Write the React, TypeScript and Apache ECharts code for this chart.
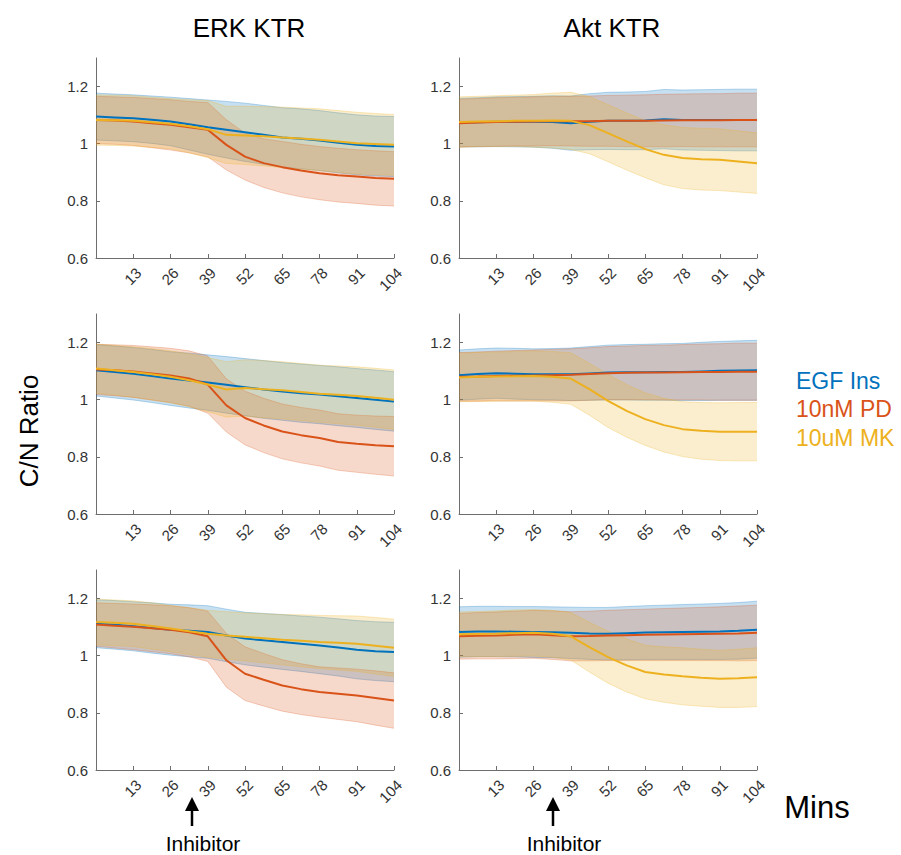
import React, { useEffect, useRef } from 'react';
import * as echarts from 'echarts';

// ---------- data ----------
const minutes = [0, 6.5, 13, 19.5, 26, 32.5, 39, 45.5, 52, 58.5, 65, 71.5, 78, 84.5, 91, 97.5, 104];
const xTickValues = [13, 26, 39, 52, 65, 78, 91, 104];
const yTickValues = [0.6, 0.8, 1, 1.2];
const conditionNames = ['EGF Ins', '10nM PD', '10uM MK'];
const columnTitles = ['ERK KTR', 'Akt KTR'];
const xAxisTitle = 'Mins';
const yAxisTitle = 'C/N Ratio';
const inhibitorLabel = 'Inhibitor';

// ERK KTR, row 1
const erk1EgfMean = [1.095, 1.092, 1.089, 1.084, 1.078, 1.068, 1.058, 1.049, 1.040, 1.031, 1.022, 1.017, 1.011, 1.003, 0.996, 0.992, 0.990];
const erk1EgfSd = [0.082, 0.082, 0.082, 0.083, 0.085, 0.090, 0.095, 0.099, 0.102, 0.103, 0.104, 0.105, 0.105, 0.105, 0.105, 0.105, 0.105];
const erk1PdMean = [1.083, 1.081, 1.078, 1.072, 1.066, 1.058, 1.049, 0.996, 0.955, 0.932, 0.918, 0.906, 0.897, 0.890, 0.885, 0.880, 0.877];
const erk1PdSd = [0.083, 0.083, 0.084, 0.086, 0.088, 0.090, 0.095, 0.088, 0.082, 0.085, 0.090, 0.092, 0.093, 0.094, 0.094, 0.095, 0.095];
const erk1MkMean = [1.083, 1.082, 1.080, 1.075, 1.070, 1.061, 1.051, 1.031, 1.029, 1.026, 1.022, 1.018, 1.014, 1.008, 1.002, 0.999, 0.996];
const erk1MkSd = [0.088, 0.088, 0.088, 0.088, 0.088, 0.093, 0.100, 0.100, 0.102, 0.104, 0.106, 0.107, 0.108, 0.108, 0.108, 0.107, 0.106];

// Akt KTR, row 1
const akt1EgfMean = [1.074, 1.075, 1.077, 1.077, 1.077, 1.076, 1.072, 1.077, 1.080, 1.080, 1.081, 1.086, 1.083, 1.083, 1.083, 1.083, 1.083];
const akt1EgfSd = [0.085, 0.086, 0.087, 0.088, 0.089, 0.092, 0.095, 0.098, 0.100, 0.101, 0.102, 0.104, 0.105, 0.106, 0.107, 0.108, 0.108];
const akt1PdMean = [1.072, 1.074, 1.076, 1.077, 1.078, 1.079, 1.079, 1.079, 1.080, 1.080, 1.080, 1.081, 1.082, 1.082, 1.082, 1.083, 1.083];
const akt1PdSd = [0.084, 0.084, 0.085, 0.085, 0.086, 0.086, 0.087, 0.088, 0.089, 0.090, 0.091, 0.092, 0.092, 0.093, 0.093, 0.094, 0.094];
const akt1MkMean = [1.076, 1.078, 1.079, 1.080, 1.080, 1.081, 1.080, 1.065, 1.037, 1.008, 0.981, 0.961, 0.950, 0.946, 0.944, 0.938, 0.932];
const akt1MkSd = [0.088, 0.088, 0.089, 0.090, 0.092, 0.096, 0.100, 0.100, 0.100, 0.100, 0.100, 0.105, 0.107, 0.108, 0.108, 0.107, 0.106];

// ERK KTR, row 2
const erk2EgfMean = [1.103, 1.097, 1.091, 1.083, 1.074, 1.067, 1.060, 1.052, 1.044, 1.036, 1.029, 1.023, 1.018, 1.012, 1.006, 1.000, 0.994];
const erk2EgfSd = [0.090, 0.091, 0.092, 0.093, 0.094, 0.096, 0.097, 0.099, 0.100, 0.101, 0.101, 0.102, 0.102, 0.103, 0.103, 0.104, 0.104];
const erk2PdMean = [1.106, 1.103, 1.099, 1.092, 1.085, 1.074, 1.053, 0.980, 0.936, 0.910, 0.889, 0.876, 0.866, 0.852, 0.846, 0.841, 0.837];
const erk2PdSd = [0.088, 0.089, 0.091, 0.093, 0.095, 0.097, 0.100, 0.093, 0.094, 0.095, 0.096, 0.097, 0.098, 0.099, 0.100, 0.102, 0.104];
const erk2MkMean = [1.109, 1.103, 1.097, 1.089, 1.080, 1.068, 1.053, 1.036, 1.041, 1.037, 1.033, 1.027, 1.021, 1.017, 1.013, 1.007, 1.000];
const erk2MkSd = [0.086, 0.087, 0.088, 0.090, 0.091, 0.093, 0.095, 0.097, 0.099, 0.100, 0.100, 0.100, 0.100, 0.101, 0.102, 0.103, 0.104];

// Akt KTR, row 2
const akt2EgfMean = [1.086, 1.090, 1.093, 1.091, 1.089, 1.089, 1.089, 1.092, 1.095, 1.096, 1.096, 1.097, 1.097, 1.099, 1.101, 1.102, 1.103];
const akt2EgfSd = [0.088, 0.088, 0.088, 0.089, 0.089, 0.090, 0.092, 0.094, 0.096, 0.097, 0.098, 0.099, 0.100, 0.102, 0.103, 0.104, 0.105];
const akt2PdMean = [1.080, 1.081, 1.083, 1.084, 1.085, 1.086, 1.087, 1.090, 1.093, 1.094, 1.095, 1.095, 1.096, 1.097, 1.097, 1.098, 1.098];
const akt2PdSd = [0.085, 0.086, 0.087, 0.088, 0.089, 0.090, 0.091, 0.092, 0.093, 0.094, 0.095, 0.096, 0.097, 0.098, 0.099, 0.100, 0.100];
const akt2MkMean = [1.078, 1.080, 1.081, 1.082, 1.083, 1.080, 1.074, 1.037, 0.996, 0.961, 0.932, 0.911, 0.897, 0.891, 0.888, 0.888, 0.888];
const akt2MkSd = [0.085, 0.086, 0.086, 0.087, 0.088, 0.089, 0.090, 0.091, 0.093, 0.092, 0.092, 0.094, 0.096, 0.099, 0.101, 0.102, 0.102];

// ERK KTR, row 3
const erk3EgfMean = [1.112, 1.108, 1.103, 1.097, 1.091, 1.087, 1.083, 1.071, 1.060, 1.054, 1.048, 1.042, 1.036, 1.029, 1.021, 1.016, 1.013];
const erk3EgfSd = [0.084, 0.085, 0.086, 0.088, 0.089, 0.091, 0.092, 0.092, 0.092, 0.094, 0.096, 0.097, 0.099, 0.100, 0.102, 0.103, 0.104];
const erk3PdMean = [1.109, 1.105, 1.101, 1.096, 1.091, 1.082, 1.068, 0.984, 0.937, 0.916, 0.896, 0.883, 0.873, 0.867, 0.861, 0.852, 0.843];
const erk3PdSd = [0.076, 0.078, 0.080, 0.082, 0.084, 0.086, 0.088, 0.094, 0.094, 0.092, 0.090, 0.089, 0.088, 0.090, 0.092, 0.095, 0.097];
const erk3MkMean = [1.118, 1.115, 1.112, 1.104, 1.095, 1.086, 1.077, 1.071, 1.066, 1.061, 1.056, 1.052, 1.048, 1.045, 1.042, 1.035, 1.028];
const erk3MkSd = [0.080, 0.080, 0.080, 0.081, 0.081, 0.082, 0.082, 0.083, 0.084, 0.086, 0.088, 0.091, 0.093, 0.095, 0.097, 0.099, 0.100];

// Akt KTR, row 3
const akt3EgfMean = [1.083, 1.085, 1.085, 1.084, 1.083, 1.082, 1.080, 1.078, 1.077, 1.079, 1.081, 1.082, 1.083, 1.084, 1.085, 1.087, 1.091];
const akt3EgfSd = [0.088, 0.088, 0.088, 0.088, 0.089, 0.089, 0.090, 0.091, 0.092, 0.093, 0.094, 0.095, 0.096, 0.097, 0.098, 0.099, 0.100];
const akt3PdMean = [1.068, 1.070, 1.071, 1.073, 1.075, 1.072, 1.068, 1.069, 1.071, 1.072, 1.073, 1.074, 1.075, 1.076, 1.077, 1.078, 1.080];
const akt3PdSd = [0.080, 0.081, 0.082, 0.083, 0.084, 0.085, 0.086, 0.087, 0.088, 0.089, 0.090, 0.091, 0.092, 0.093, 0.094, 0.096, 0.097];
const akt3MkMean = [1.075, 1.076, 1.077, 1.079, 1.080, 1.077, 1.068, 1.030, 0.995, 0.966, 0.943, 0.934, 0.928, 0.923, 0.919, 0.921, 0.925];
const akt3MkSd = [0.078, 0.079, 0.080, 0.081, 0.081, 0.082, 0.083, 0.087, 0.091, 0.093, 0.094, 0.097, 0.100, 0.100, 0.100, 0.102, 0.103];

// ---------- styling / layout ----------
const COLORS = ['#0072BD', '#D95319', '#EDB120'];
const FONT = '"Liberation Sans", Arial, Helvetica, sans-serif';
const COL_LEFT = [96, 459];
const ROW_TOP = [58, 314, 570];
const GRID_W = 298;
const GRID_H = 200;

const panels = [
  { row: 0, col: 0, means: [erk1EgfMean, erk1PdMean, erk1MkMean], sds: [erk1EgfSd, erk1PdSd, erk1MkSd] },
  { row: 0, col: 1, means: [akt1EgfMean, akt1PdMean, akt1MkMean], sds: [akt1EgfSd, akt1PdSd, akt1MkSd] },
  { row: 1, col: 0, means: [erk2EgfMean, erk2PdMean, erk2MkMean], sds: [erk2EgfSd, erk2PdSd, erk2MkSd] },
  { row: 1, col: 1, means: [akt2EgfMean, akt2PdMean, akt2MkMean], sds: [akt2EgfSd, akt2PdSd, akt2MkSd] },
  { row: 2, col: 0, means: [erk3EgfMean, erk3PdMean, erk3MkMean], sds: [erk3EgfSd, erk3PdSd, erk3MkSd] },
  { row: 2, col: 1, means: [akt3EgfMean, akt3PdMean, akt3MkMean], sds: [akt3EgfSd, akt3PdSd, akt3MkSd] },
];

function bandRenderer(color: string) {
  return (params: any, api: any) => {
    if (params.dataIndex !== 0) return null;
    const n = params.dataInsideLength;
    const upper: number[][] = [];
    const lower: number[][] = [];
    for (let i = 0; i < n; i++) {
      const t = api.value(0, i);
      upper.push(api.coord([t, api.value(2, i)]));
      lower.push(api.coord([t, api.value(1, i)]));
    }
    const lowerRev = lower.slice().reverse();
    return {
      type: 'group',
      children: [
        { type: 'polygon', shape: { points: upper.concat(lowerRev) }, style: { fill: color, opacity: 0.22 } },
        { type: 'polyline', shape: { points: upper }, style: { stroke: color, fill: null, lineWidth: 0.8, opacity: 0.35 } },
        { type: 'polyline', shape: { points: lower }, style: { stroke: color, fill: null, lineWidth: 0.8, opacity: 0.35 } },
      ],
    };
  };
}

function buildOption() {
  const grid: any[] = [];
  const xAxis: any[] = [];
  const yAxis: any[] = [];
  const series: any[] = [];

  panels.forEach((p, pi) => {
    grid.push({ left: COL_LEFT[p.col], top: ROW_TOP[p.row], width: GRID_W, height: GRID_H, containLabel: false });
    xAxis.push({
      type: 'value', gridIndex: pi, min: 0, max: 104, interval: 13,
      splitLine: { show: false },
      axisLine: { show: true, lineStyle: { color: '#6e6e6e', width: 1 } },
      axisTick: { show: true, inside: true, length: 4, lineStyle: { color: '#6e6e6e' }, customValues: xTickValues },
      axisLabel: {
        show: true, rotate: 45, margin: 7, fontSize: 15, color: '#333', fontFamily: FONT,
        customValues: xTickValues, align: 'right', verticalAlign: 'top',
      },
    });
    yAxis.push({
      type: 'value', gridIndex: pi, min: 0.6, max: 1.3,
      splitLine: { show: false },
      axisLine: { show: true, onZero: false, lineStyle: { color: '#6e6e6e', width: 1 } },
      axisTick: { show: true, inside: true, length: 4, lineStyle: { color: '#6e6e6e' }, customValues: yTickValues },
      axisLabel: {
        show: true, margin: 8, fontSize: 15, color: '#333', fontFamily: FONT,
        customValues: yTickValues, formatter: (v: number) => String(Math.round(v * 10) / 10),
      },
    });

    p.means.forEach((mean, ci) => {
      const sd = p.sds[ci];
      series.push({
        type: 'custom', name: `${conditionNames[ci]} band`, xAxisIndex: pi, yAxisIndex: pi,
        data: minutes.map((t, i) => [t, mean[i] - sd[i], mean[i] + sd[i]]),
        encode: { x: 0, y: [1, 2] },
        renderItem: bandRenderer(COLORS[ci]),
        silent: true, z: 1, clip: true,
      });
    });
    p.means.forEach((mean, ci) => {
      series.push({
        type: 'line', name: conditionNames[ci], xAxisIndex: pi, yAxisIndex: pi,
        data: minutes.map((t, i) => [t, mean[i]]),
        symbol: 'none', z: 3,
        lineStyle: { color: COLORS[ci], width: 2 },
      });
    });
  });

  const graphic: any[] = [];
  columnTitles.forEach((t, i) => {
    graphic.push({
      type: 'text', x: COL_LEFT[i] + GRID_W / 2 + 4, y: 28,
      style: { text: t, fill: '#000', fontSize: 26, fontFamily: FONT, align: 'center', verticalAlign: 'middle' },
    });
  });
  graphic.push({
    type: 'text', x: 29, y: 431, rotation: Math.PI / 2,
    style: { text: yAxisTitle, fill: '#000', fontSize: 26, fontFamily: FONT, align: 'center', verticalAlign: 'middle' },
  });
  conditionNames.forEach((n, i) => {
    graphic.push({
      type: 'text', x: 796, y: 381 + i * 28.3,
      style: { text: n, fill: COLORS[i], fontSize: 23, fontFamily: FONT, align: 'left', verticalAlign: 'middle' },
    });
  });
  graphic.push({
    type: 'text', x: 817, y: 807,
    style: { text: xAxisTitle, fill: '#000', fontSize: 31, fontFamily: FONT, align: 'center', verticalAlign: 'middle' },
  });
  [[192, 203], [553, 564]].forEach(([ax, tx]) => {
    graphic.push({
      type: 'polygon', shape: { points: [[ax - 7, 811], [ax + 7, 811], [ax, 797]] },
      style: { fill: '#000' },
    });
    graphic.push({
      type: 'line', shape: { x1: ax, y1: 810, x2: ax, y2: 826 },
      style: { stroke: '#000', lineWidth: 2.5 },
    });
    graphic.push({
      type: 'text', x: tx, y: 843,
      style: { text: inhibitorLabel, fill: '#000', fontSize: 21, fontFamily: FONT, align: 'center', verticalAlign: 'middle' },
    });
  });

  return {
    animation: false,
    backgroundColor: '#ffffff',
    textStyle: { fontFamily: FONT },
    grid, xAxis, yAxis, series, graphic,
  };
}

export default function App() {
  const ref = useRef<HTMLDivElement | null>(null);
  useEffect(() => {
    if (!ref.current) return;
    const chart = echarts.init(ref.current, undefined, { renderer: 'svg' });
    chart.setOption(buildOption() as any);
    return () => chart.dispose();
  }, []);
  return <div ref={ref} style={{ position: 'absolute', left: 0, top: 0, width: 901, height: 855 }} />;
}
